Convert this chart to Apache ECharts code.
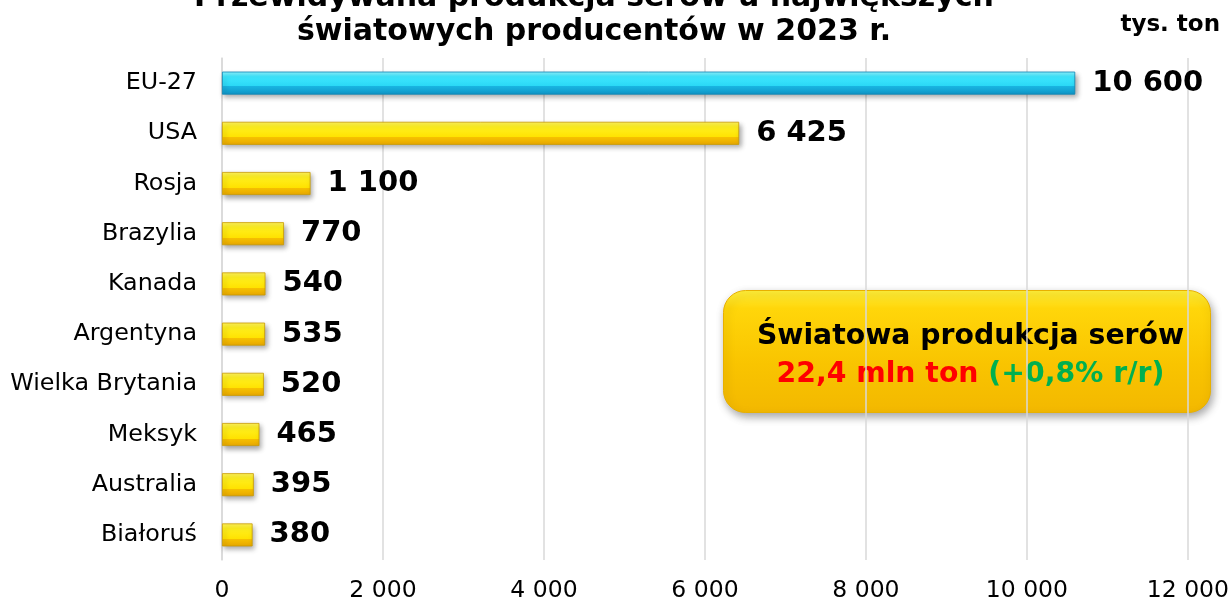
<!DOCTYPE html>
<html>
<head>
<meta charset="utf-8">
<script src="https://cdn.jsdelivr.net/npm/echarts@6/dist/echarts.min.js"></script>
<style>
html,body{margin:0;padding:0;background:#fff;}
#chart{width:1232px;height:603px;}
</style>
</head>
<body>
<div id="chart"></div>
<script>
const categories = ['EU-27','USA','Rosja','Brazylia','Kanada','Argentyna','Wielka Brytania','Meksyk','Australia','Białoruś'];
const values = [10600, 6425, 1100, 770, 540, 535, 520, 465, 395, 380];
const xTicks = [0, 2000, 4000, 6000, 8000, 10000, 12000];
const titleLines = ['Przewidywana produkcja serów u największych', 'światowych producentów w 2023 r.'];
const unitLabel = 'tys. ton';
const boxLine1 = 'Światowa produkcja serów';
const boxLine2a = '22,4 mln ton';
const boxLine2b = '(+0,8% r/r)';

const FONT = '"DejaVu Sans", Verdana, sans-serif';
function fmt(v){ return String(v).replace(/\B(?=(\d{3})+(?!\d))/g, ' '); }

const yellow = new echarts.graphic.LinearGradient(0,0,0,1,[
  {offset:0,color:'#fff35e'},{offset:0.22,color:'#fff020'},{offset:0.68,color:'#ffe200'},
  {offset:0.68,color:'#f6c000'},{offset:1,color:'#e8a800'}]);
const blue = new echarts.graphic.LinearGradient(0,0,0,1,[
  {offset:0,color:'#8ff3ff'},{offset:0.22,color:'#3fe8ff'},{offset:0.62,color:'#2ad8f6'},
  {offset:0.62,color:'#19b6e3'},{offset:1,color:'#0f95c6'}]);

const chart = echarts.init(document.getElementById('chart'));
chart.setOption({
  backgroundColor:'#ffffff',
  animation:false,
  grid:{left:222,right:44,top:58,bottom:43,containLabel:false},
  xAxis:{
    type:'value',min:xTicks[0],max:xTicks[xTicks.length-1],interval:2000,
    axisLine:{show:false},axisTick:{show:false},
    splitLine:{show:true,lineStyle:{color:'#d9d9d9',width:1.5}},
    axisLabel:{fontFamily:FONT,fontSize:23.5,color:'#000',margin:19,formatter:fmt}
  },
  yAxis:{
    type:'category',data:categories,inverse:true,
    axisLine:{show:true,lineStyle:{color:'#d9d9d9',width:1.5}},
    axisTick:{show:false},
    axisLabel:{fontFamily:FONT,fontSize:23.8,color:'#000',margin:25}
  },
  series:[{
    type:'bar',
    barWidth:23,
    data: values.map((v,i)=>({value:v,itemStyle:{color: i===0 ? blue : yellow, borderColor: i===0 ? '#0d86b5' : '#c99a00', borderWidth:0.8}})),
    itemStyle:{shadowColor:'rgba(0,0,0,0.35)',shadowBlur:5,shadowOffsetX:2,shadowOffsetY:3},
    label:{show:true,position:'right',distance:17,fontFamily:FONT,fontSize:29,fontWeight:'bold',color:'#000',
      formatter:p=>fmt(p.value)}
  }],
  graphic:[
    {type:'text',x:594,y:-19,style:{text:titleLines.join('\n'),fontFamily:FONT,fontSize:30,fontWeight:'bold',fill:'#000',textAlign:'center',lineHeight:34}},
    {type:'text',x:1220,y:25,style:{text:unitLabel,fontFamily:FONT,fontSize:23,fontWeight:'bold',fill:'#000',textAlign:'right',textVerticalAlign:'middle'}},
    {type:'group',left:723,top:290,children:[
      {type:'rect',shape:{x:0,y:0,width:487,height:122,r:22},
        style:{fill:new echarts.graphic.LinearGradient(0,0,0,1,[
          {offset:0,color:'#ffef3a'},{offset:0.15,color:'#ffd60a'},{offset:0.6,color:'#f9c400'},{offset:1,color:'#f3b800'}]),
          stroke:'#e8b000',lineWidth:1,shadowColor:'rgba(0,0,0,0.35)',shadowBlur:8,shadowOffsetX:2,shadowOffsetY:4}},
      {type:'text',x:247,y:46,style:{text:boxLine1,fontFamily:FONT,fontSize:28.3,fontWeight:'bold',fill:'#000',textAlign:'center',textVerticalAlign:'middle'}},
      {type:'text',x:247,y:84,style:{text:'{r|'+boxLine2a+' }{g|'+boxLine2b+'}',textAlign:'center',textVerticalAlign:'middle',
        rich:{r:{fontFamily:FONT,fontSize:28.3,fontWeight:'bold',fill:'#ff0000',color:'#ff0000'},g:{fontFamily:FONT,fontSize:28.3,fontWeight:'bold',fill:'#00b050',color:'#00b050'}}}}
    ]}
  ]
});
</script>
</body>
</html>
